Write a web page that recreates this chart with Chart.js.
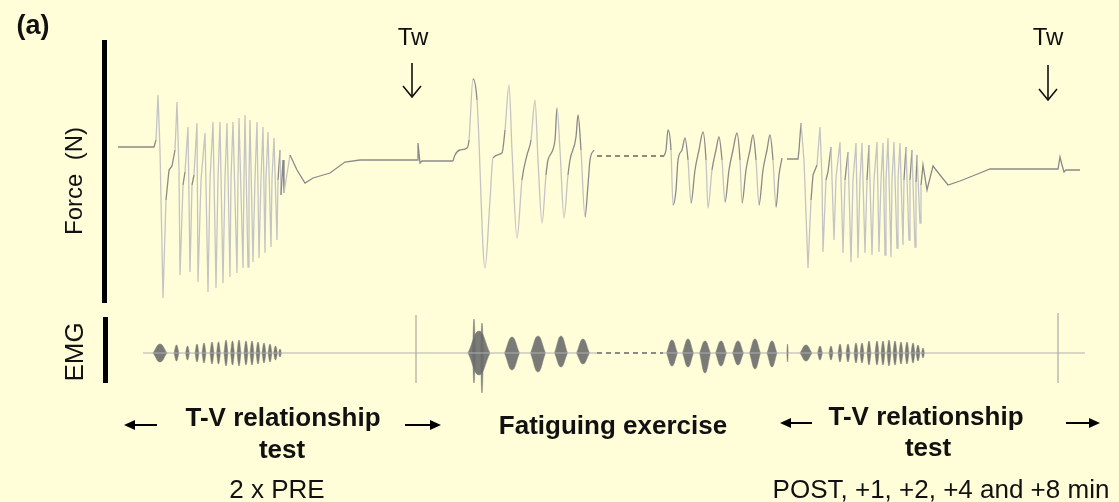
<!DOCTYPE html>
<html>
<head>
<meta charset="utf-8">
<script src="https://cdn.jsdelivr.net/npm/chart.js@4.4.1/dist/chart.umd.min.js"></script>
<style>
body { margin: 0; background: #fffed9; }
#wrap { position: relative; width: 1119px; height: 502px; overflow: hidden; background: #fffed9;
        font-family: 'Liberation Sans', Arial, sans-serif; color: #111; }
#chart { position: absolute; left: 0; top: 0; }
.t { position: absolute; white-space: nowrap; line-height: 1; transform: translate(-50%, -50%); font-size: 26px; }
.b { font-weight: bold; font-size: 26px; }
.rot { transform: translate(-50%, -50%) rotate(-90deg); }
.bar { position: absolute; background: #000; }
#marks { position: absolute; left: 0; top: 0; }
</style>
</head>
<body>
<div id="wrap">
  <canvas id="chart" width="1119" height="502"></canvas>
  <svg id="marks" width="1119" height="502">
    <g stroke="#111" stroke-width="1.6" fill="none">
      <line x1="412" y1="63" x2="412" y2="97"/>
      <polyline points="403,86 412,97 421,86"/>
      <line x1="1048" y1="65" x2="1048" y2="100"/>
      <polyline points="1039,89 1048,100 1057,89"/>
    </g>
    <g stroke="#000" stroke-width="2" fill="#000">
      <line x1="132" y1="425" x2="157" y2="425"/>
      <polygon points="124,425 135,420 135,430" stroke="none"/>
      <line x1="405" y1="425" x2="432" y2="425"/>
      <polygon points="441,425 430,420 430,430" stroke="none"/>
      <line x1="788" y1="423" x2="812" y2="423"/>
      <polygon points="780,423 791,418 791,428" stroke="none"/>
      <line x1="1066" y1="423" x2="1092" y2="423"/>
      <polygon points="1100,423 1089,418 1089,428" stroke="none"/>
    </g>
  </svg>
  <div class="bar" style="left:102px; top:40px; width:5px; height:263px"></div>
  <div class="bar" style="left:103px; top:317px; width:5px; height:66px"></div>

  <div class="t b" style="left:33px; top:25px; font-size:27px">(a)</div>
  <div class="t" style="left:413px; top:37px; font-size:24px">Tw</div>
  <div class="t" style="left:1048px; top:37px; font-size:24px">Tw</div>
  <div class="t rot" style="left:74px; top:181px; font-size:24px">Force&nbsp; (N)</div>
  <div class="t rot" style="left:74px; top:352px">EMG</div>
  <div class="t b" style="left:283px; top:417px">T-V relationship</div>
  <div class="t b" style="left:282px; top:449px">test</div>
  <div class="t b" style="left:613px; top:425px">Fatiguing exercise</div>
  <div class="t b" style="left:926px; top:416px">T-V relationship</div>
  <div class="t b" style="left:928px; top:447px">test</div>
  <div class="t" style="left:277px; top:489px">2 x PRE</div>
  <div class="t" style="left:941px; top:489px">POST, +1, +2, +4 and +8 min</div>
</div>
<script>
// force traces, time in s, force in N (relative to resting baseline)
const forcePreTime = [11.8, 15.4, 15.6, 15.8, 16.0, 16.3, 16.6, 16.9, 17.2, 17.5, 17.7, 17.9, 18.0, 18.3, 18.5, 18.8, 19.0, 19.2, 19.4, 19.7,
    19.8, 20.1, 20.5, 20.8, 21.0, 21.3, 21.6, 21.8, 22.0, 22.3, 22.5, 22.7, 23.0, 23.1, 23.3, 23.7, 23.8, 23.9, 24.3, 24.4,
    24.5, 24.8, 24.9, 25.0, 25.3, 25.5, 25.7, 25.9, 26.1, 26.3, 26.5, 26.6, 26.8, 27.1, 27.2, 27.4, 27.7, 27.8, 28.0, 28.1,
    28.3, 28.4, 29.0, 29.7, 30.5, 31.3, 33.0, 34.5, 36.0, 41.7, 41.8, 42.0, 42.2, 45.3]
const forcePreN = [0, 0, 7, 52, -3, -151, -53, -23, -19, -3, 45, -23, -128, -38, -25, 20, -125, -38, -28, 24,
    -135, -33, 14, -145, -33, 25, -141, -31, 25, -136, -31, 24, -130, -31, 25, -126, -31, 29, -121, -31,
    32, -120, -31, 27, -115, -31, 25, -111, -31, 20, -106, -31, 15, -100, -31, 9, -93, -33, -3, -48,
    -13, -46, -8, -23, -36, -31, -26, -15, -13, -13, 4, -16, -14, -14]

const fatigueATime = [45.3, 45.5, 46.0, 46.7, 46.9, 47.3, 47.7, 48.5, 49.0, 49.3, 50.2, 50.5, 50.9, 51.2, 51.7, 52.2, 52.7, 53.1,
    53.5, 53.8, 54.2, 54.6, 54.8, 55.5, 55.7, 56.0, 56.4, 56.8, 57.0, 57.6, 57.8, 58.1, 58.5, 58.8, 59.0, 59.4]
const fatigueAN = [-14, -8, -3, -1, 7, 68, 47, -121, -53, -11, -6, 17, 62, -3, -91, -33, -8, 7,
    47, -13, -76, -28, -13, 7, 39, -3, -71, -28, -13, 10, 32, -3, -70, -38, -13, -3]

const fatigueBTime = [66.3, 66.6, 66.8, 67.1, 67.3, 67.6, 67.8, 68.2, 68.5, 68.8, 69.1, 69.5, 69.9, 70.3, 70.6, 70.8, 71.2, 71.6, 71.9,
    72.2, 72.5, 72.9, 73.3, 73.7, 74.0, 74.2, 74.6, 75.0, 75.3, 75.6, 75.9, 76.3, 76.7, 77.0, 77.3, 77.6, 77.9, 78.2]
const fatigueBN = [-10, -3, 17, -3, -58, -43, -13, -3, 9, -13, -56, -23, -3, 15, -13, -61, -23, -3, 10,
    -13, -55, -23, -3, 14, -13, -56, -23, -3, 12, -13, -58, -23, -3, 12, -13, -60, -28, -11]

const forcePostTime = [78.7, 79.8, 79.9, 80.1, 80.4, 80.8, 81.1, 81.3, 81.7, 82.0, 82.2, 82.3, 82.6, 82.8, 83.1, 83.4, 83.6, 84.0,
    84.3, 84.5, 84.8, 85.1, 85.3, 85.6, 85.8, 86.0, 86.2, 86.5, 86.7, 86.9, 87.2, 87.4, 87.7, 87.9, 88.1, 88.3,
    88.5, 88.6, 88.8, 89.1, 89.2, 89.4, 89.7, 89.8, 90.0, 90.3, 90.4, 90.6, 90.9, 91.0, 91.2, 91.5, 91.6, 91.7,
    92.0, 92.1, 92.3, 92.7, 93.3, 94.0, 94.8, 96.0, 98.0, 99.0, 105.8, 106.0, 106.2, 106.4, 106.6, 108.0]
const forcePostN = [-12, -12, -3, 24, -13, -121, -53, -28, -18, 20, -33, -105, -33, -25, 0, -93, -31, 5,
    -106, -33, -5, -115, -33, 4, -111, -33, 4, -106, -33, 2, -108, -33, 5, -105, -33, 4,
    -108, -33, 9, -110, -33, 5, -101, -33, 4, -98, -33, 0, -93, -33, -3, -100, -35, -8,
    -76, -38, -18, -43, -19, -28, -38, -34, -26, -22, -22, -10, -18, -25, -23, -23]

const gapTime = [59.7, 66.3]
const gapForceN = [-9, -9]

// EMG, bursts as centre time, duration and upper/lower envelope
const emgLineTime = [[14.3, 59.7], [66.3, 108.5]]
const twitchTime = [41.6, 105.8]
const twitchUp = [38, 40]
const twitchDown = [30, 30]

const emgBurstTime = [16.0, 17.65, 18.75, 19.7, 20.4, 21.2, 21.85, 22.6, 23.25, 23.9, 24.6, 25.2, 25.8, 26.4, 27.0, 27.55, 28.0,
    47.9, 47.4, 48.2, 51.2, 53.8, 56.1, 58.3,
    67.2, 68.8, 70.5, 72.1, 73.8, 75.5, 77.2, 78.75,
    80.6, 82.0, 83.1, 84.0, 84.8, 85.6, 86.2, 86.9, 87.7, 88.3, 88.9, 89.5, 90.1, 90.7, 91.3, 91.8, 92.3]
const emgBurstSpan = [1.4, 0.5, 0.4, 0.4, 0.4, 0.4, 0.4, 0.4, 0.4, 0.4, 0.4, 0.4, 0.4, 0.4, 0.4, 0.4, 0.3,
    2.2, 0.3, 0.3, 1.5, 1.5, 1.3, 1.3,
    1.1, 1.1, 1.1, 1.1, 1.1, 1.1, 1.0, 0.15,
    1.2, 0.5, 0.4, 0.4, 0.4, 0.4, 0.4, 0.4, 0.4, 0.4, 0.4, 0.4, 0.4, 0.4, 0.4, 0.4, 0.3]
const emgBurstUp = [9, 8, 7, 9, 10, 11, 11, 13, 12, 13, 12, 12, 11, 10, 9, 7, 4,
    22, 34, 30, 16, 17, 17, 14,
    13, 14, 12, 12, 12, 14, 12, 9,
    8, 7, 7, 9, 9, 10, 10, 12, 12, 12, 13, 12, 11, 11, 10, 8, 5]
const emgBurstDown = [9, 8, 7, 9, 10, 11, 11, 13, 12, 13, 12, 12, 11, 10, 9, 7, 4,
    22, 30, 40, 17, 19, 14, 11,
    13, 14, 20, 13, 12, 16, 14, 9,
    8, 7, 7, 9, 9, 10, 10, 12, 12, 12, 13, 12, 11, 11, 10, 8, 5]

const pts = (ts, vs) => ts.map((t, i) => ({ x: t, y: vs[i] }))

// steep strokes come out lighter, like the thin traces in the figure
const traceColor = ctx => Math.abs(ctx.p1.parsed.y - ctx.p0.parsed.y) > 35 ? '#c4c4c4' : '#8a8a8a'

const forceLine = (data, smooth) => ({
    data: data,
    yAxisID: 'force',
    borderColor: '#8a8a8a',
    borderWidth: 1.3,
    pointRadius: 0,
    cubicInterpolationMode: smooth ? 'monotone' : 'default',
    tension: 0,
    segment: { borderColor: traceColor }
})

const datasets = [
    forceLine(pts(forcePreTime, forcePreN), false),
    forceLine(pts(fatigueATime, fatigueAN), true),
    forceLine(pts(fatigueBTime, fatigueBN), true),
    forceLine(pts(forcePostTime, forcePostN), false),
    { data: pts(gapTime, gapForceN), yAxisID: 'force', borderColor: '#666', borderWidth: 1.3, borderDash: [5, 4], pointRadius: 0 },
    { data: pts(gapTime, [0, 0]), yAxisID: 'emg', borderColor: '#666', borderWidth: 1.3, borderDash: [5, 4], pointRadius: 0 }
]

emgLineTime.forEach(seg => {
    datasets.push({ data: pts(seg, [0, 0]), yAxisID: 'emg', borderColor: '#b0b0b0', borderWidth: 1.2, pointRadius: 0 })
})

twitchTime.forEach((t, i) => {
    datasets.push({ data: [{ x: t, y: -twitchDown[i] }, { x: t, y: twitchUp[i] }], yAxisID: 'emg',
        borderColor: '#a8a8a8', borderWidth: 1.2, pointRadius: 0 })
})

// each burst: upper and lower half of its envelope, filled to the baseline
emgBurstTime.forEach((t, i) => {
    const h = emgBurstSpan[i] / 2;
    [emgBurstUp[i], -emgBurstDown[i]].forEach(a => {
        datasets.push({
            data: [{ x: t - h, y: 0 }, { x: t, y: a }, { x: t + h, y: 0 }],
            yAxisID: 'emg',
            borderColor: 'rgba(125,125,125,0.5)',
            borderWidth: 1,
            backgroundColor: 'rgba(108,108,108,0.9)',
            fill: 'origin',
            tension: 0.45,
            pointRadius: 0
        })
    })
})

new Chart(document.getElementById('chart'), {
    type: 'line',
    data: { datasets: datasets },
    options: {
        responsive: false,
        animation: false,
        devicePixelRatio: 1,
        layout: { padding: 0 },
        plugins: { legend: { display: false }, tooltip: { enabled: false } },
        scales: {
            x: { type: 'linear', min: 0, max: 111.9, display: false },
            force: { type: 'linear', min: -355, max: 147, display: false },
            emg: { type: 'linear', min: -149, max: 353, display: false }
        }
    }
})
</script>
</body>
</html>
